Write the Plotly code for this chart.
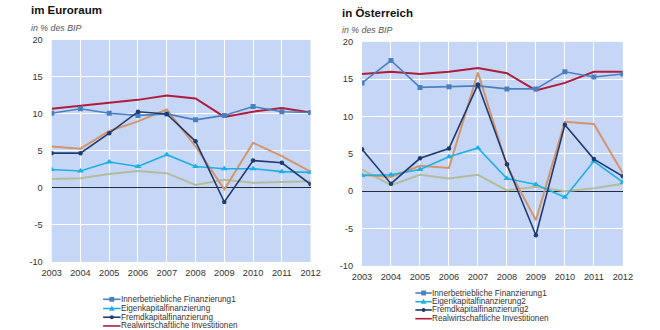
import plotly.graph_objects as go

years = [2003, 2004, 2005, 2006, 2007, 2008, 2009, 2010, 2011, 2012]
year_labels = [str(y) for y in years]
y_ticks = [-10, -5, 0, 5, 10, 15, 20]
y_tick_labels = ["-10", "-5", "0", "5", "10", "15", "20"]

# Euroraum
eu_inner = [10.1, 10.7, 10.1, 9.8, 10.0, 9.2, 9.8, 11.0, 10.3, 10.2]
eu_eigen = [2.5, 2.3, 3.5, 2.9, 4.5, 2.9, 2.6, 2.6, 2.2, 2.1]
eu_fremd = [4.7, 4.7, 7.4, 10.3, 10.0, 6.3, -1.9, 3.7, 3.4, 0.5]
eu_real = [10.7, 11.1, 11.4, 11.9, 12.5, 12.1, 9.6, 10.3, 10.8, 10.2]
eu_aussen = [5.6, 5.3, 7.7, 9.0, 10.6, 5.6, -0.2, 6.1, 4.3, 2.2]
eu_sonst = [1.2, 1.3, 1.9, 2.3, 2.0, 0.4, 1.1, 0.7, 0.8, 0.9]

# Österreich
at_inner = [14.5, 17.5, 13.9, 14.0, 14.1, 13.7, 13.7, 16.0, 15.3, 15.7]
at_eigen = [2.1, 2.2, 2.9, 4.6, 5.8, 1.7, 0.9, -0.8, 4.0, 1.2]
at_fremd = [5.6, 1.0, 4.4, 5.7, 14.3, 3.6, -5.9, 8.9, 4.3, 2.0]
at_real = [15.7, 16.0, 15.7, 16.0, 16.5, 15.8, 13.5, 14.5, 16.0, 16.0]
at_aussen = [2.2, 1.9, 3.4, 3.1, 15.9, 3.4, -3.9, 9.3, 9.0, 2.4]
at_sonst = [2.9, 0.8, 2.2, 1.7, 2.2, 0.1, 0.6, 0.0, 0.4, 1.0]

eu_legend = ["Innerbetriebliche Finanzierung1", "Eigenkapitalfinanzierung",
             "Fremdkapitalfinanzierung", "Realwirtschaftliche Investitionen"]
at_legend = ["Innerbetriebliche Finanzierung1", "Eigenkapitalfinanzierung2",
             "Fremdkapitalfinanzierung2", "Realwirtschaftliche Investitionen"]

C_INNER = "#4a80c0"
C_EIGEN = "#1cb0e4"
C_FREMD = "#1f3b70"
C_REAL = "#b01c3c"
C_AUSSEN = "#d4956a"
C_SONST = "#b2bd9e"
BG = "#c6d6f6"
FONT = "Liberation Sans, Arial, sans-serif"
TXT = "#333333"

W, H = 660, 330

fig = go.Figure()

def add_series(xa, ya, inner, eigen, fremd, real, aussen, sonst):
    common = dict(x=years, xaxis=xa, yaxis=ya, showlegend=False, hoverinfo="skip")
    fig.add_trace(go.Scatter(y=sonst, mode="lines", line=dict(color=C_SONST, width=2), **common))
    fig.add_trace(go.Scatter(y=aussen, mode="lines", line=dict(color=C_AUSSEN, width=2), **common))
    fig.add_trace(go.Scatter(y=real, mode="lines", line=dict(color=C_REAL, width=2), **common))
    fig.add_trace(go.Scatter(y=inner, mode="lines+markers", line=dict(color=C_INNER, width=1.6),
                             marker=dict(symbol="square", size=5, color=C_INNER), **common))
    fig.add_trace(go.Scatter(y=eigen, mode="lines+markers", line=dict(color=C_EIGEN, width=1.6),
                             marker=dict(symbol="triangle-up", size=6, color=C_EIGEN), **common))
    fig.add_trace(go.Scatter(y=fremd, mode="lines+markers", line=dict(color=C_FREMD, width=1.6),
                             marker=dict(symbol="circle", size=4.5, color=C_FREMD), **common))

add_series("x", "y", eu_inner, eu_eigen, eu_fremd, eu_real, eu_aussen, eu_sonst)
add_series("x2", "y2", at_inner, at_eigen, at_fremd, at_real, at_aussen, at_sonst)

# manual legends drawn as shapes + annotations in pixel-derived paper coords
def px(x):
    return x / W

def py(y):
    return 1 - y / H

legend_styles = [(C_INNER, "square"), (C_EIGEN, "triangle"),
                 (C_FREMD, "circle"), (C_REAL, None)]
eu_rows = [303.5, 313, 322, 331]
at_rows = [297, 306, 314.5, 323.5]
annotations = []
shapes = []
for labels, rows, x0, x1, xt in [(eu_legend, eu_rows, 96, 114, 113),
                                 (at_legend, at_rows, 418, 435, 434)]:
    for (col, sym), lab, yy in zip(legend_styles, labels, rows):
        shapes.append(dict(type="line", xref="paper", yref="paper",
                           x0=px(x0), x1=px(x1), y0=py(yy), y1=py(yy),
                           line=dict(color=col, width=1.6)))
        xm = (x0 + x1) / 2
        if sym == "square":
            shapes.append(dict(type="rect", xref="paper", yref="paper",
                               x0=px(xm - 2.5), x1=px(xm + 2.5), y0=py(yy - 2.5), y1=py(yy + 2.5),
                               fillcolor=col, line=dict(width=0)))
        elif sym == "circle":
            shapes.append(dict(type="circle", xref="paper", yref="paper",
                               x0=px(xm - 2), x1=px(xm + 2), y0=py(yy - 2), y1=py(yy + 2),
                               fillcolor=col, line=dict(width=0)))
        elif sym == "triangle":
            path = "M {:.5f} {:.5f} L {:.5f} {:.5f} L {:.5f} {:.5f} Z".format(
                px(xm - 3), py(yy + 2.2), px(xm + 3), py(yy + 2.2), px(xm), py(yy - 3))
            shapes.append(dict(type="path", xref="paper", yref="paper", path=path,
                               fillcolor=col, line=dict(width=0)))
        annotations.append(dict(x=px(xt), y=py(yy), xref="paper", yref="paper",
                                text=lab, showarrow=False, xanchor="left", yanchor="middle",
                                borderpad=0,
                                font=dict(family=FONT, size=8.2, color=TXT)))

# titles
annotations += [
    dict(x=px(21), y=py(5), xref="paper", yref="paper", text="<b>im Euroraum</b>",
         showarrow=False, xanchor="left", yanchor="middle", borderpad=0,
         font=dict(family=FONT, size=11.5, color="#111111")),
    dict(x=px(341), y=py(8), xref="paper", yref="paper", text="<b>in Österreich</b>",
         showarrow=False, xanchor="left", yanchor="middle", borderpad=0,
         font=dict(family=FONT, size=11.5, color="#111111")),
    dict(x=px(21), y=py(24), xref="paper", yref="paper", text="<i>in % des BIP</i>",
         showarrow=False, xanchor="left", yanchor="middle", borderpad=0,
         font=dict(family=FONT, size=8.8, color="#555555")),
    dict(x=px(341), y=py(26), xref="paper", yref="paper", text="<i>in % des BIP</i>",
         showarrow=False, xanchor="left", yanchor="middle", borderpad=0,
         font=dict(family=FONT, size=8.8, color="#555555")),
]

xcommon = dict(range=[2003, 2012], tickvals=years, ticktext=year_labels,
               showgrid=True, gridcolor="white", gridwidth=1, zeroline=False,
               showline=False, ticks="", ticklabelstandoff=4,
               tickfont=dict(family=FONT, size=9.2, color=TXT), fixedrange=True)
ycommon = dict(range=[-10, 20], tickvals=y_ticks, ticktext=y_tick_labels,
               showgrid=True, gridcolor="white",
               gridwidth=1, zeroline=True, zerolinecolor="#2a2a3a", zerolinewidth=1.3,
               showline=False, ticks="", ticklabelstandoff=8,
               tickfont=dict(family=FONT, size=9.2, color=TXT), fixedrange=True)

fig.update_layout(
    width=W, height=H,
    margin=dict(l=0, r=0, t=0, b=0),
    paper_bgcolor="white",
    plot_bgcolor=BG,
    showlegend=False,
    xaxis=dict(domain=[px(43), px(310)], anchor="y", **xcommon),
    yaxis=dict(domain=[py(265), py(36)], anchor="x", **ycommon),
    xaxis2=dict(domain=[px(363), px(632)], anchor="y2", **xcommon),
    yaxis2=dict(domain=[py(269), py(38)], anchor="x2", **ycommon),
    annotations=annotations,
    shapes=shapes,
)

fig.write_html("out.html")
